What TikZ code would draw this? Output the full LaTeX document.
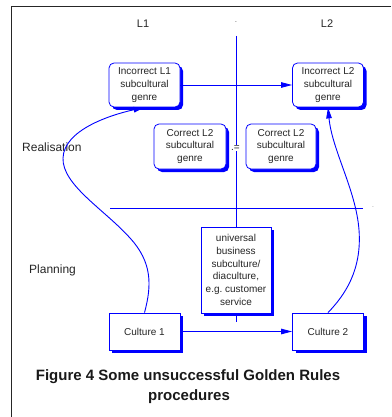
\documentclass[tikz,border=0pt]{standalone}
\usepackage{fontspec}
\setmainfont{Liberation Sans}
\usetikzlibrary{arrows.meta,shadows}

\tikzset{
  ink/.style={text=black!85},
  boxtext/.style={ink, font=\fontsize{10}{12.8}\selectfont, align=center, inner sep=1pt},
  shade blue/.style={drop shadow={shadow xshift=3pt, shadow yshift=-3pt, fill=blue, opacity=1}},
  genrebox/.style={boxtext, draw=blue, line width=0.8pt, fill=white, rounded corners=5pt,
                   minimum width=71pt, minimum height=44pt, shade blue},
  plainbox/.style={boxtext, draw=blue, line width=0.8pt, fill=white,
                   minimum width=71pt, minimum height=37pt, shade blue},
  link/.style={draw=blue, line width=0.9pt},
  arrowlink/.style={link, -{Triangle[length=11pt,width=5.5pt]}},
  sidelabel/.style={ink, font=\fontsize{12}{14}\selectfont, anchor=west, inner sep=0pt},
  headlabel/.style={ink, font=\fontsize{11}{13}\selectfont, inner sep=0pt},
  caption/.style={font=\bfseries\fontsize{15}{18}\selectfont, text=black!90, inner sep=0pt}
}

\begin{document}
\begin{tikzpicture}[x=1pt,y=-1pt]
  \useasboundingbox (0,0) rectangle (391,417);
  \fill[white] (0,0) rectangle (391,417);

  % page frame (top and left edges)
  \draw[line width=1.3pt, black!85] (11.5,417) -- (11.5,6.5) -- (391,6.5);

  % column headings
  \node[headlabel] (hL1) at (143,24) {L1};
  \node[headlabel] (hL2) at (327,24) {L2};
  \node[ink, font=\fontsize{5}{6}\selectfont, inner sep=0pt] (hmid) at (236,23) {-};

  % row labels
  \node[sidelabel] (real) at (22,147) {Realisation};
  \node[sidelabel] (plan) at (29,270) {Planning};

  % dividing lines
  \coordinate (vtop) at (236,36);
  \coordinate (vbot) at (236,322);
  \coordinate (hleft) at (110,208);
  \coordinate (hright) at (363,208);
  \node[ink, font=\fontsize{5}{6}\selectfont, inner sep=0pt] (hdot1) at (373,207) {.};
  \node[ink, font=\fontsize{5}{6}\selectfont, inner sep=0pt] (hdot2) at (96,206) {.};
  \draw[link] (hleft) -- (hright);

  % genre boxes
  \node[genrebox] (inc1) at (144.5,85) {Incorrect L1\\subcultural\\genre};
  \node[genrebox] (inc2) at (328,85) {Incorrect L2\\subcultural\\genre};
  \node[genrebox, minimum width=72pt, minimum height=45pt] (cor1) at (190,146.5) {Correct L2\\subcultural\\genre};
  \node[genrebox, minimum width=70pt, minimum height=45pt] (cor2) at (281,146.5) {Correct L2\\subcultural\\genre};

  % shared business culture
  \node[plainbox, minimum width=70pt, minimum height=86pt] (univ) at (236,270)
    {universal\\business\\subculture/\\diaculture,\\e.g.\ customer\\service};

  % cultures
  \node[plainbox] (c1) at (144.5,331.5) {Culture 1};
  \node[plainbox] (c2) at (328,331.5) {Culture 2};

  % vertical divider, broken by the equality mark
  \draw[link] (vtop) -- (univ.north);
  \draw[link] (univ.south) -- (vbot);
  \node[boxtext, fill=white, inner sep=0.8pt] (eq) at (235.5,148) {.=};

  % straight transfers
  \draw[arrowlink] (inc1.east) -- (inc2.west);
  \draw[arrowlink] (c1.east) -- (c2.west);

  % realisation paths
  \draw[arrowlink] (c1.north) .. controls (152,285) and (152,262) .. (130,238)
                   .. controls (105,210) and (62,185) .. (63,158)
                   .. controls (64,130) and (110,115) .. (inc1.south);
  \draw[arrowlink] (c2.north) .. controls (345,295) and (362,270) .. (359,230)
                   .. controls (356,190) and (332,150) .. (inc2.south);

  % caption
  \node[caption] (cap1) at (188,377) {Figure 4 Some unsuccessful Golden Rules};
  \node[caption] (cap2) at (189,397) {procedures};
\end{tikzpicture}
\end{document}
